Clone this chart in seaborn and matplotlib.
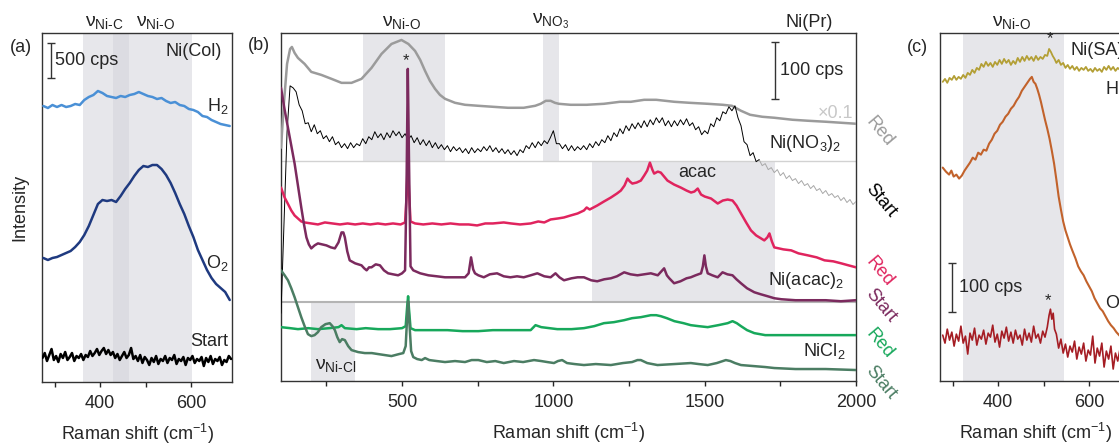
import matplotlib
matplotlib.use('Agg')
import matplotlib.pyplot as plt
import pandas as pd
import seaborn as sns

# ---------------- panel (a): Ni(Col) ----------------
col_shift = [275, 285, 295, 305, 315, 325, 335, 345, 355, 365, 375, 385, 395, 405,
             415, 425, 435, 445, 455, 465, 475, 485, 495, 505, 515, 525, 535, 545,
             555, 565, 575, 585, 595, 605, 615, 625, 635, 645, 655, 665, 675, 685]
col_h2 = [276, 274, 277, 275, 277, 275, 276, 278, 277, 282, 285, 287, 291, 289,
          286, 285, 284, 286, 285, 287, 288, 290, 288, 286, 285, 283, 284, 281,
          279, 280, 277, 276, 273, 272, 270, 266, 265, 262, 260, 258, 257, 256]
col_o2 = [124, 122, 124, 125, 127, 129, 131, 135, 140, 147, 156, 167, 178, 182,
          181, 182, 180, 186, 193, 199, 206, 212, 216, 215, 217, 217, 213, 207,
          199, 189, 178, 168, 156, 145, 132, 122, 112, 104, 98, 94, 90, 82]
col_start = [(273, 24), (278, 29), (283, 21), (288, 27), (293, 33), (298, 22), (303, 26),
             (308, 20), (313, 28), (318, 24), (323, 30), (328, 22), (333, 25), (338, 29),
             (343, 21), (348, 26), (353, 24), (358, 28), (363, 22), (368, 27), (373, 25),
             (378, 31), (383, 26), (388, 29), (393, 33), (398, 27), (403, 31), (408, 34),
             (413, 28), (418, 32), (423, 27), (428, 30), (433, 24), (438, 28), (443, 22),
             (448, 26), (453, 30), (458, 24), (463, 27), (468, 34), (473, 23), (478, 26),
             (483, 21), (488, 27), (493, 19), (498, 25), (503, 22), (508, 17), (513, 24),
             (518, 20), (523, 26), (528, 18), (533, 23), (538, 21), (543, 26), (548, 19),
             (553, 24), (558, 22), (563, 27), (568, 18), (573, 23), (578, 21), (583, 25),
             (588, 17), (593, 24), (598, 22), (603, 26), (608, 19), (613, 23), (618, 21),
             (623, 25), (628, 16), (633, 24), (638, 20), (643, 26), (648, 18), (653, 23),
             (658, 21), (663, 25), (668, 17), (673, 22), (678, 20), (683, 26), (688, 23)]

# ---------------- panel (b): Ni(Pr) ----------------
pr_no3_red = [(100, 234), (110, 280), (120, 318), (130, 333), (136, 335), (145, 329),
              (156, 324), (178, 318), (200, 310), (233, 307), (267, 303), (300, 299),
              (333, 299), (366, 303), (399, 314), (432, 328), (465, 338), (498, 342),
              (521, 338), (543, 331), (560, 322), (576, 311), (592, 301), (609, 293),
              (625, 287), (642, 283), (675, 279), (708, 277), (752, 276), (800, 275),
              (850, 274), (902, 274), (940, 276), (958, 278), (975, 281), (991, 281),
              (1005, 279), (1018, 278), (1057, 277), (1110, 277), (1167, 278), (1220, 280),
              (1256, 280), (1300, 282), (1340, 282), (1400, 280), (1450, 279), (1510, 278),
              (1560, 277), (1590, 276), (1620, 271), (1650, 267), (1690, 265), (1730, 264),
              (1790, 262), (1841, 261), (1900, 260), (1950, 259), (2000, 258)]
pr_no3_start = [(100, 68), (110, 160), (120, 250), (130, 296), (140, 294), (150, 290),
                (160, 277), (170, 271), (180, 258), (190, 259), (200, 250), (210, 257),
                (220, 248), (230, 251), (240, 243), (250, 246), (260, 240), (270, 245),
                (280, 237), (290, 240), (300, 234), (310, 238), (320, 233), (330, 239),
                (340, 234), (350, 238), (360, 236), (370, 243), (380, 238), (390, 245),
                (400, 242), (410, 250), (420, 244), (430, 248), (440, 242), (450, 249),
                (460, 244), (470, 251), (480, 246), (490, 250), (500, 244), (510, 248),
                (520, 242), (530, 246), (540, 239), (550, 244), (560, 237), (570, 242),
                (580, 236), (590, 241), (600, 234), (610, 239), (620, 233), (630, 237),
                (640, 232), (650, 236), (660, 230), (670, 235), (680, 231), (690, 234),
                (700, 229), (710, 233), (720, 228), (730, 234), (740, 229), (750, 233),
                (760, 230), (770, 235), (780, 231), (790, 236), (800, 230), (810, 234),
                (820, 229), (830, 233), (840, 228), (850, 232), (860, 227), (870, 231),
                (880, 226), (890, 232), (900, 229), (910, 236), (920, 233), (930, 239),
                (940, 234), (950, 240), (960, 236), (970, 241), (980, 238), (990, 244),
                (1000, 251), (1010, 238), (1020, 238), (1030, 233), (1040, 237), (1050, 231),
                (1060, 236), (1070, 231), (1080, 235), (1090, 232), (1100, 236), (1110, 232),
                (1120, 238), (1130, 234), (1140, 240), (1150, 236), (1160, 242), (1170, 239),
                (1180, 246), (1190, 241), (1200, 249), (1210, 245), (1220, 253), (1230, 248),
                (1240, 256), (1250, 251), (1260, 258), (1270, 253), (1280, 259), (1290, 254),
                (1300, 261), (1310, 255), (1320, 262), (1330, 257), (1340, 264), (1350, 259),
                (1360, 264), (1370, 256), (1380, 261), (1390, 255), (1400, 261), (1410, 256),
                (1420, 262), (1430, 257), (1440, 263), (1450, 256), (1460, 259), (1470, 252),
                (1480, 255), (1490, 247), (1500, 251), (1510, 248), (1520, 258), (1530, 255),
                (1540, 264), (1550, 261), (1560, 270), (1570, 268), (1580, 275), (1590, 271),
                (1600, 276), (1610, 264), (1620, 256), (1630, 240), (1640, 237), (1650, 226),
                (1660, 229), (1670, 220), (1680, 222)]
pr_no3_tail = [(1680, 222), (1690, 216), (1700, 218), (1710, 212), (1720, 214), (1730, 209),
               (1740, 212), (1750, 206), (1760, 209), (1770, 203), (1780, 206), (1790, 201),
               (1800, 203), (1810, 198), (1820, 201), (1830, 196), (1840, 198), (1850, 193),
               (1860, 196), (1870, 191), (1880, 193), (1890, 188), (1900, 191), (1910, 186),
               (1920, 188), (1930, 184), (1940, 186), (1950, 181), (1960, 184), (1970, 179),
               (1980, 182), (1990, 177), (2000, 180)]
pr_acac_red = [(100, 194), (112, 184), (124, 177), (134, 171), (145, 166), (156, 163),
               (167, 160), (178, 159), (200, 158), (222, 157), (245, 159), (270, 158),
               (295, 157), (320, 158), (345, 157), (370, 158), (395, 157), (420, 158),
               (445, 157), (470, 158), (495, 157), (510, 159), (515, 185), (519, 225),
               (523, 190), (528, 160), (543, 158), (570, 157), (600, 158), (630, 157),
               (660, 158), (690, 157), (720, 157), (748, 156), (775, 158), (800, 158),
               (836, 159), (860, 158), (890, 157), (925, 158), (950, 160), (970, 159),
               (991, 162), (1015, 163), (1035, 164), (1057, 166), (1080, 168), (1101, 171),
               (1110, 174), (1120, 172), (1145, 176), (1167, 180), (1190, 184), (1210, 188),
               (1223, 191), (1235, 196), (1245, 203), (1253, 200), (1261, 198), (1275, 199),
               (1289, 201), (1300, 206), (1310, 211), (1319, 219), (1327, 212), (1333, 208),
               (1345, 210), (1355, 209), (1366, 205), (1377, 201), (1399, 197), (1421, 194),
               (1440, 191), (1455, 189), (1466, 190), (1477, 193), (1488, 187), (1500, 185),
               (1521, 183), (1543, 178), (1560, 181), (1576, 182), (1592, 181), (1605, 176),
               (1620, 168), (1637, 159), (1653, 151), (1670, 146), (1697, 141), (1707, 144),
               (1714, 148), (1722, 140), (1730, 134), (1760, 132), (1786, 131), (1810, 128),
               (1841, 126), (1870, 124), (1896, 121), (1925, 120), (1951, 118), (1975, 116),
               (2000, 114)]
pr_acac_start = [(100, 294), (112, 272), (123, 254), (134, 236), (145, 218), (156, 196),
                 (167, 174), (176, 157), (184, 144), (192, 137), (200, 133), (211, 136),
                 (222, 138), (236, 137), (250, 136), (265, 134), (278, 133), (290, 139),
                 (300, 149), (306, 149), (311, 144), (319, 130), (327, 121), (345, 118),
                 (366, 116), (375, 113), (383, 111), (391, 114), (399, 114), (413, 117),
                 (427, 116), (440, 111), (454, 108), (470, 107), (487, 106), (500, 108),
                 (510, 111), (515, 200), (519, 313), (523, 220), (528, 115), (537, 111),
                 (560, 108), (587, 106), (615, 105), (642, 104), (675, 104), (708, 104),
                 (720, 108), (728, 124), (735, 112), (741, 108), (752, 106), (770, 104),
                 (790, 107), (814, 108), (836, 105), (858, 104), (880, 105), (902, 104),
                 (925, 106), (947, 108), (970, 105), (991, 104), (1007, 108), (1020, 104),
                 (1035, 101), (1060, 103), (1080, 104), (1101, 104), (1125, 101), (1145, 100),
                 (1168, 102), (1190, 103), (1210, 105), (1234, 109), (1255, 107), (1278, 106),
                 (1300, 107), (1322, 108), (1345, 106), (1366, 113), (1375, 106), (1383, 103),
                 (1399, 98), (1420, 100), (1440, 103), (1454, 104), (1470, 106), (1488, 108),
                 (1494, 115), (1499, 126), (1504, 115), (1510, 108), (1525, 106), (1543, 104),
                 (1559, 109), (1575, 107), (1592, 106), (1605, 102), (1620, 98), (1640, 93),
                 (1664, 89), (1685, 87), (1708, 85), (1730, 83), (1753, 82), (1800, 81),
                 (1841, 81), (1900, 81), (1950, 80), (2000, 81)]
pr_cl_red = [(100, 54), (130, 53), (156, 52), (190, 53), (222, 52), (260, 53), (290, 54),
             (300, 56), (311, 53), (350, 52), (380, 53), (421, 52), (460, 52), (500, 53),
             (512, 55), (517, 75), (520, 85), (523, 72), (528, 53), (543, 51), (600, 51),
             (650, 51), (700, 50), (752, 50), (800, 51), (836, 51), (880, 51), (925, 51),
             (941, 56), (960, 54), (1013, 52), (1060, 52), (1101, 53), (1135, 55), (1167, 58),
             (1200, 59), (1234, 61), (1260, 63), (1289, 64), (1322, 66), (1340, 66),
             (1355, 65), (1375, 63), (1400, 60), (1430, 58), (1454, 56), (1480, 55),
             (1510, 54), (1545, 56), (1576, 58), (1592, 60), (1606, 58), (1620, 55),
             (1640, 51), (1664, 48), (1700, 46), (1730, 46), (1800, 46), (1900, 46), (2000, 46)]
pr_cl_start = [(100, 111), (112, 106), (123, 101), (134, 93), (145, 84), (156, 74), (167, 64),
               (178, 55), (189, 47), (200, 45), (211, 46), (222, 49), (233, 54), (247, 57),
               (261, 58), (270, 55), (278, 51), (286, 44), (294, 39), (302, 42), (311, 41),
               (322, 35), (333, 31), (355, 29), (377, 28), (400, 28), (421, 27), (443, 26),
               (465, 25), (490, 27), (504, 28), (512, 35), (517, 65), (520, 80), (524, 60),
               (530, 30), (537, 24), (550, 22), (565, 21), (576, 23), (590, 21), (615, 20),
               (642, 19), (675, 20), (708, 19), (730, 21), (752, 21), (780, 19), (808, 20),
               (836, 18), (870, 20), (900, 19), (936, 21), (960, 20), (980, 19), (1002, 18),
               (1015, 20), (1029, 21), (1045, 18), (1070, 17), (1101, 16), (1140, 17),
               (1190, 16), (1230, 18), (1260, 19), (1278, 21), (1289, 21), (1310, 18),
               (1344, 16), (1400, 17), (1454, 18), (1480, 17), (1510, 16), (1540, 18),
               (1570, 21), (1585, 20), (1600, 18), (1620, 16), (1660, 15), (1700, 14),
               (1730, 13), (1800, 12), (1900, 12), (2000, 11)]

# ---------------- panel (c): Ni(SA) ----------------
sa_h2 = [(278, 300), (283, 303), (288, 299), (293, 304), (298, 302), (303, 306), (308, 302),
         (313, 305), (318, 303), (323, 307), (328, 304), (333, 309), (338, 307), (343, 312),
         (348, 309), (353, 314), (358, 312), (363, 318), (368, 315), (373, 320), (378, 316),
         (383, 319), (388, 315), (393, 320), (398, 317), (403, 322), (408, 318), (413, 323),
         (418, 319), (423, 322), (428, 317), (433, 321), (438, 318), (443, 324), (448, 320),
         (453, 325), (458, 321), (463, 326), (468, 322), (473, 325), (478, 321), (483, 326),
         (488, 322), (493, 325), (498, 323), (503, 327), (508, 326), (512, 333), (516, 330),
         (520, 326), (524, 323), (528, 319), (533, 322), (538, 317), (543, 319), (548, 314),
         (553, 317), (558, 313), (563, 316), (568, 312), (573, 315), (578, 311), (583, 314),
         (588, 312), (593, 315), (598, 311), (603, 313), (608, 310), (613, 314), (618, 311),
         (623, 313), (628, 310), (633, 315), (638, 312), (643, 316), (648, 312), (653, 315),
         (658, 311), (663, 314), (668, 312), (673, 315), (678, 311), (683, 313), (688, 312)]
sa_o2 = [(278, 214), (285, 210), (292, 207), (297, 211), (302, 205), (308, 207), (314, 203),
         (320, 206), (326, 211), (332, 215), (338, 219), (344, 224), (350, 222), (356, 229),
         (362, 227), (368, 232), (374, 231), (380, 238), (386, 242), (392, 248), (398, 251),
         (404, 257), (410, 260), (416, 265), (422, 268), (428, 273), (434, 276), (440, 281),
         (446, 285), (452, 291), (458, 295), (464, 299), (470, 303), (474, 305), (478, 300),
         (482, 298), (486, 293), (490, 287), (494, 280), (498, 272), (503, 262), (508, 253),
         (513, 243), (518, 231), (523, 218), (528, 202), (533, 185), (538, 172), (543, 160),
         (548, 151), (553, 144), (558, 137), (563, 131), (570, 123), (576, 115), (582, 110),
         (588, 106), (594, 100), (600, 95), (606, 90), (612, 83), (618, 78), (624, 73),
         (630, 70), (636, 65), (642, 60), (648, 56), (654, 53), (660, 49), (666, 46),
         (672, 43), (678, 39), (684, 37), (690, 35)]
sa_start = [(278, 46), (283, 38), (288, 52), (293, 41), (298, 49), (303, 35), (308, 47),
            (313, 40), (318, 55), (323, 38), (328, 45), (333, 27), (338, 48), (343, 41),
            (348, 53), (353, 36), (358, 46), (363, 42), (368, 51), (373, 37), (378, 48),
            (383, 44), (388, 56), (393, 39), (398, 47), (403, 34), (408, 50), (413, 43),
            (418, 54), (423, 40), (428, 49), (433, 38), (438, 51), (443, 42), (448, 46),
            (453, 36), (458, 52), (463, 41), (468, 48), (473, 39), (478, 55), (483, 43),
            (488, 47), (493, 38), (498, 50), (503, 44), (508, 54), (512, 66), (515, 72),
            (518, 62), (521, 68), (524, 52), (528, 47), (533, 33), (538, 42), (543, 28),
            (548, 37), (553, 24), (558, 35), (563, 29), (568, 40), (573, 22), (578, 34),
            (583, 27), (588, 38), (593, 20), (598, 31), (603, 26), (608, 45), (613, 18),
            (618, 33), (623, 25), (628, 38), (633, 14), (638, 30), (643, 22), (648, 35),
            (653, 12), (658, 28), (663, 20), (668, 32), (673, 16), (678, 27), (683, 19),
            (688, 29)]

SHADE = '#d4d4db'
HY = '\u2010'  # hyphen inside the subscripts


def trace(ax, pts, color, lw, shift=None):
    if shift is None:
        df = pd.DataFrame(pts, columns=['shift', 'counts'])
    else:
        df = pd.DataFrame({'shift': shift, 'counts': pts})
    sns.lineplot(data=df, x='shift', y='counts', ax=ax, color=color, linewidth=lw,
                 estimator=None, sort=False, legend=False, zorder=3)


def nu_label(sub):
    return '$\\nu_{\\mathrm{' + sub + '}}$'


def nu(ax, x, sub):
    ax.text(x, 1.005, nu_label(sub), transform=ax.get_xaxis_transform(),
            ha='center', va='bottom', fontsize=14, color='#222222')


def scale_bar(ax, x, y0, y1, label, xt):
    ax.errorbar([x], [(y0 + y1) / 2], yerr=[(y1 - y0) / 2], color='#333333', lw=1,
                capsize=3, capthick=1, zorder=4)
    ax.text(xt, (y0 + y1) / 2, label, ha='left', va='center')


def style(ax, xlim, major, minor):
    ax.set_xlim(*xlim)
    ax.set_ylim(0, 349)
    ax.set_xticks(major)
    ax.set_xticks(minor, minor=True)
    ax.set_yticks([])
    ax.tick_params(axis='x', which='both', direction='out', length=3.5, width=1, pad=6,
                   labelsize=13, top=False)
    ax.set_xlabel('Raman shift (cm$^{-1}$)', fontsize=13, labelpad=7)
    ax.set_ylabel('')
    for s in ax.spines.values():
        s.set_visible(True)
        s.set_color('#333333')
        s.set_linewidth(1)


sns.set_style('ticks')
plt.rcParams.update({
    'font.family': ['Liberation Sans', 'DejaVu Sans'],
    'font.size': 13,
    'mathtext.fontset': 'custom',
    'mathtext.rm': 'Liberation Sans',
    'mathtext.it': 'Liberation Sans',
    'mathtext.bf': 'Liberation Sans:bold',
    'mathtext.sf': 'Liberation Sans',
})

W, H = 1119, 444
fig = plt.figure(figsize=(W / 100, H / 100), dpi=100)
ax_a = fig.add_axes([42 / W, 62 / H, 190 / W, 349 / H])
ax_b = fig.add_axes([281 / W, 63 / H, 575 / W, 348 / H])
ax_c = fig.add_axes([940 / W, 63 / H, 190 / W, 348 / H])

# --- (a) ---
ax_a.axvspan(362, 463, color=SHADE, alpha=0.55, lw=0, zorder=0)
ax_a.axvspan(428, 602, color=SHADE, alpha=0.55, lw=0, zorder=0)
trace(ax_a, col_h2, '#4a90d6', 1.8, col_shift)
trace(ax_a, col_o2, '#1f3a80', 1.8, col_shift)
trace(ax_a, col_start, 'black', 1.8)
style(ax_a, (272, 690), [400, 600], [300, 500])
ax_a.set_ylabel('Intensity', fontsize=13, labelpad=10)
nu(ax_a, 410, 'Ni' + HY + 'C')
nu(ax_a, 522, 'Ni' + HY + 'O')
ax_a.text(668, 330, 'Ni(Col)', ha='right', va='center')
scale_bar(ax_a, 291, 304, 339, '500 cps', 301)
ax_a.text(682, 276, r'H$_2$', ha='right', va='center')
ax_a.text(682, 119, r'O$_2$', ha='right', va='center')
ax_a.text(682, 41, 'Start', ha='right', va='center')
fig.text(10 / W, 1 - 48 / H, '(a)', ha='left', va='center', fontsize=13)

# --- (b) ---
for lo, hi, y0, y1 in [(372, 641, 221, 349), (967, 1020, 221, 349),
                       (1127, 1731, 79, 221), (200, 346, 0, 79)]:
    ax_b.fill_between([lo, hi], y0, y1, color='#e6e6ea', lw=0, zorder=0)
ax_b.axhline(221, color='#d2d2d2', lw=1, zorder=1)
ax_b.axhline(79, color='#b4b4b4', lw=1.5, zorder=1)
trace(ax_b, pr_no3_red, '#9b9b9b', 1.8)
trace(ax_b, pr_no3_tail, '#a8a8a8', 0.7)
trace(ax_b, pr_no3_start, 'black', 0.7)
trace(ax_b, pr_acac_red, '#e0245e', 1.8)
trace(ax_b, pr_acac_start, '#7b2a5e', 1.8)
trace(ax_b, pr_cl_red, '#17a85b', 1.8)
trace(ax_b, pr_cl_start, '#4b7d63', 1.8)
style(ax_b, (100, 2000), [500, 1000, 1500, 2000], [250, 750, 1250, 1750])
nu(ax_b, 500, 'Ni' + HY + 'O')
nu(ax_b, 990, 'NO_3')
ax_b.text(279, 16, nu_label('Ni' + HY + 'Cl'), ha='center', va='center', fontsize=14,
          color='#222222')
ax_b.text(514, 321, '*', ha='center', va='center', fontsize=12)
ax_b.text(1924, 360, 'Ni(Pr)', ha='right', va='center')
ax_b.text(1990, 268, '\u00d70.1', ha='right', va='center', color='#c8c8c8')
ax_b.text(1951, 238, r'Ni(NO$_3$)$_2$', ha='right', va='center')
ax_b.text(1477, 209, 'acac', ha='center', va='center')
ax_b.text(1958, 101, r'Ni(acac)$_2$', ha='right', va='center')
ax_b.text(1967, 30, r'NiCl$_2$', ha='right', va='center')
scale_bar(ax_b, 1733, 283, 340, '100 cps', 1750)
for lab, top, col in [('Red', 268, '#9b9b9b'), ('Start', 201, 'black'),
                      ('Red', 128, '#e0245e'), ('Start', 96, '#7b2a5e'),
                      ('Red', 56, '#17a85b'), ('Start', 18, '#4b7d63')]:
    ax_b.text(2020, top, lab, rotation=-50, ha='left', va='top', color=col,
              fontsize=13, clip_on=False)
fig.text(248 / W, 1 - 45 / H, '(b)', ha='left', va='center', fontsize=13)

# --- (c) ---
ax_c.axvspan(322, 544, color='#e6e6ea', lw=0, zorder=0)
trace(ax_c, sa_h2, '#b39f35', 1.3)
trace(ax_c, sa_o2, '#c2622b', 1.5)
trace(ax_c, sa_start, '#a51d24', 1.2)
style(ax_c, (272, 690), [400, 600], [300, 500])
nu(ax_c, 430, 'Ni' + HY + 'O')
ax_c.text(513, 343, '*', ha='center', va='center', fontsize=12)
ax_c.text(510, 81, '*', ha='center', va='center', fontsize=12)
ax_c.text(560, 331, 'Ni(SA)', ha='left', va='center')
ax_c.text(636, 293, r'H$_2$', ha='left', va='center')
ax_c.text(634, 78, r'O$_2$', ha='left', va='center')
scale_bar(ax_c, 299, 69, 118, '100 cps', 313)
fig.text(907 / W, 1 - 48 / H, '(c)', ha='left', va='center', fontsize=13)

fig.savefig('out.png', dpi=100)
